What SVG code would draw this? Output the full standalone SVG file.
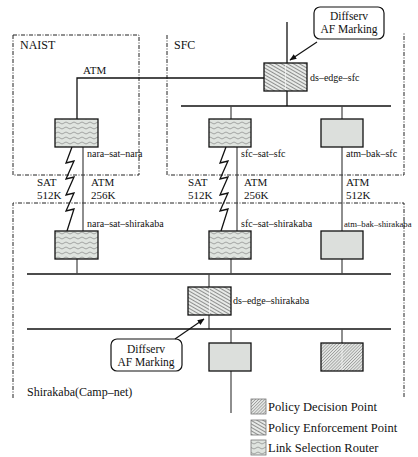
<svg xmlns="http://www.w3.org/2000/svg" width="418" height="457" viewBox="0 0 418 457">
<style>
text{font-family:"Liberation Serif","Times New Roman",serif;fill:#111}
.zone{fill:none;stroke:#222;stroke-width:1;stroke-dasharray:4 1.5 1 1.5}
.bus{fill:none;stroke:#111;stroke-width:1.3}
.drop{fill:none;stroke:#444;stroke-width:1.2}
.box{stroke:#111;stroke-width:1.3}
.plain{fill:#dcdfdc}
.lsr{fill:url(#wave)}
.pep{fill:url(#pepHatch)}
.pdp{fill:url(#pdpHatch)}
.seam{stroke:#fff;stroke-width:0.8;opacity:0.8}
.lbl{font-size:10px}
.link{font-size:11px}
.zl{font-size:12px}
.call{fill:#fff;stroke:#111;stroke-width:1.2}
.ct{font-size:11.5px;text-anchor:middle}
.leg{font-size:12.5px}
.arrow{fill:none;stroke:#111;stroke-width:1.2}
</style>
<defs>
<pattern id="wave" width="8" height="5" patternUnits="userSpaceOnUse">
<rect width="8" height="5" fill="#dfe4df"/>
<path d="M0,3 Q2,1 4,3 T8,3" fill="none" stroke="#777" stroke-width="0.6"/>
</pattern>
<pattern id="pepHatch" width="6" height="3" patternUnits="userSpaceOnUse" patternTransform="rotate(30)">
<rect width="6" height="3" fill="#e8eae8"/>
<line x1="0" y1="1.5" x2="6" y2="1.5" stroke="#707070" stroke-width="0.75"/>
</pattern>
<pattern id="pdpHatch" width="6" height="2.2" patternUnits="userSpaceOnUse" patternTransform="rotate(-45)">
<rect width="6" height="2.2" fill="#e4e6e4"/>
<line x1="0" y1="1.1" x2="6" y2="1.1" stroke="#8a8a8a" stroke-width="0.7"/>
</pattern>
<marker id="ah" viewBox="0 0 10 10" refX="9" refY="5" markerWidth="7" markerHeight="7" orient="auto" markerUnits="userSpaceOnUse">
<path d="M0,1 L10,5 L0,9 z" fill="#111"/>
</marker>
</defs>

<g id="zones">
<rect class="zone" x="13" y="35" width="126" height="140"/>
<path class="zone" d="M167,35 V175 H404 V33"/>
<path class="zone" d="M13,398 V203 H404 V398"/>
<text class="zl" x="20" y="49">NAIST</text>
<text class="zl" x="174" y="49">SFC</text>
<text class="zl" x="27" y="396">Shirakaba(Camp–net)</text>
</g>

<g id="connectors">
<path class="bus" d="M77,119 V78 H264"/>
<path class="bus" d="M287,22 V63"/>
<path class="bus" d="M287,91 V106"/>
<path class="bus" d="M181,106 H391"/>
<path class="drop" d="M231,106 V119 M342,106 V119"/>
<path class="bus" d="M72,147 L66,163 L74,161 L66,179 L74,177 L66,195 L74,193 L66,211 L74,209 L67,231"/>
<path class="bus" d="M226,147 L220,163 L228,161 L220,179 L228,177 L220,195 L228,193 L220,211 L228,209 L221,231"/>
<path class="drop" d="M83,147 V231 M237,147 V231 M342,147 V231"/>
<path class="bus" d="M27,274 H391"/>
<path class="drop" d="M77,259 V274 M231,259 V274 M342,259 V274 M209,274 V287 M209,315 V329"/>
<path class="bus" d="M27,329 H391"/>
<path class="drop" d="M231,329 V343 M342,329 V343 M231,371 V413"/>
<text class="link" x="37" y="186">SAT</text>
<text class="link" x="37" y="199">512K</text>
<text class="link" x="91" y="186">ATM</text>
<text class="link" x="91" y="199">256K</text>
<text class="link" x="188" y="186">SAT</text>
<text class="link" x="188" y="199">512K</text>
<text class="link" x="244" y="186">ATM</text>
<text class="link" x="244" y="199">256K</text>
<text class="link" x="346" y="186">ATM</text>
<text class="link" x="346" y="199">512K</text>
<text class="link" x="83" y="74">ATM</text>
</g>

<g id="ds-edge-sfc">
<rect class="box pep" x="264" y="63" width="43" height="28"/>
<line class="seam" x1="285.5" y1="64" x2="285.5" y2="90"/>
<text class="lbl" x="310" y="81">ds–edge–sfc</text>
</g>
<g id="callout-sfc">
<rect class="call" x="314" y="7" width="70" height="32" rx="6"/>
<text class="ct" x="349" y="20">Diffserv</text>
<text class="ct" x="349" y="33">AF Marking</text>
<path class="arrow" d="M317,42 L290,60" marker-end="url(#ah)"/>
</g>

<g id="nara-sat-nara">
<rect class="box lsr" x="55" y="119" width="43" height="28"/>
<text class="lbl" x="87" y="157">nara–sat–nara</text>
</g>
<g id="sfc-sat-sfc">
<rect class="box lsr" x="209" y="119" width="42" height="28"/>
<text class="lbl" x="241" y="157">sfc–sat–sfc</text>
</g>
<g id="atm-bak-sfc">
<rect class="box plain" x="321" y="119" width="42" height="28"/>
<text class="lbl" x="346" y="157">atm–bak–sfc</text>
</g>

<g id="nara-sat-shirakaba">
<rect class="box lsr" x="55" y="231" width="43" height="28"/>
<text class="lbl" x="87" y="227">nara–sat–shirakaba</text>
</g>
<g id="sfc-sat-shirakaba">
<rect class="box lsr" x="209" y="231" width="42" height="28"/>
<text class="lbl" x="241" y="227">sfc–sat–shirakaba</text>
</g>
<g id="atm-bak-shirakaba">
<rect class="box plain" x="321" y="231" width="42" height="28"/>
<text x="344" y="227" style="font-size:8.7px">atm–bak–shirakaba</text>
</g>

<g id="ds-edge-shirakaba">
<rect class="box pep" x="188" y="287" width="43" height="28"/>
<line class="seam" x1="209.5" y1="288" x2="209.5" y2="314"/>
<text class="lbl" x="233" y="304">ds–edge–shirakaba</text>
</g>
<g id="callout-shirakaba">
<rect class="call" x="111" y="339" width="71" height="32" rx="6"/>
<text class="ct" x="146" y="353">Diffserv</text>
<text class="ct" x="146" y="366">AF Marking</text>
<path class="arrow" d="M175,339 L204,319" marker-end="url(#ah)"/>
</g>

<g id="host-shirakaba">
<rect class="box plain" x="209" y="343" width="42" height="28"/>
</g>
<g id="pdp-shirakaba">
<rect class="box pdp" x="321" y="343" width="42" height="28"/>
<line class="seam" x1="342" y1="344" x2="342" y2="370"/>
</g>

<g id="legend">
<rect class="pdp" x="251" y="399" width="15" height="15" stroke="#777" stroke-width="0.8"/>
<text class="leg" x="268" y="411">Policy Decision Point</text>
<rect class="pep" x="251" y="420" width="15" height="15" stroke="#777" stroke-width="0.8"/>
<text class="leg" x="268" y="432">Policy Enforcement Point</text>
<rect class="lsr" x="251" y="440" width="15" height="15" stroke="#777" stroke-width="0.8"/>
<text class="leg" x="268" y="452">Link Selection Router</text>
</g>
</svg>
